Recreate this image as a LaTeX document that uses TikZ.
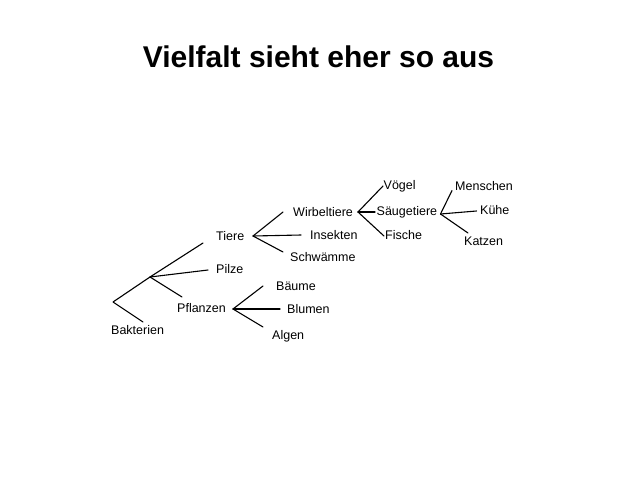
\documentclass[tikz,border=0pt]{standalone}
\usepackage{fontspec}
\setmainfont{Liberation Sans}
\usetikzlibrary{positioning}

\tikzset{
	taxon/.style={anchor=base west, inner sep=0pt, font=\fontsize{12.5}{15}\selectfont},
	branch/.style={line width=1.1pt, line cap=round},
}

\begin{document}
\begin{tikzpicture}[x=1pt, y=-1pt]
	\useasboundingbox (0,0) rectangle (640,480);
	\node [anchor=base, inner sep=0pt, font=\bfseries\fontsize{30}{36}\selectfont]	(Title)	at (318.5,67)	{Vielfalt sieht eher so aus};

	% labels
	\node [taxon]	(Bakterien)	at (111,334.5)	{Bakterien};
	\node [taxon]	(Tiere)		at (216,240)	{Tiere};
	\node [taxon]	(Pilze)		at (216,273)	{Pilze};
	\node [taxon]	(Pflanzen)	at (177,312.5)	{Pflanzen};
	\node [taxon]	(Baeume)	at (276,290)	{Bäume};
	\node [taxon]	(Blumen)	at (287,313)	{Blumen};
	\node [taxon]	(Algen)		at (272,339)	{Algen};
	\node [taxon]	(Wirbeltiere)	at (293,216)	{Wirbeltiere};
	\node [taxon]	(Insekten)	at (310,239)	{Insekten};
	\node [taxon]	(Schwaemme)	at (290,261)	{Schwämme};
	\node [taxon]	(Voegel)	at (383.5,189.5)	{Vögel};
	\node [taxon]	(Saeugetiere)	at (376.5,215)	{Säugetiere};
	\node [taxon]	(Fische)	at (385,239.5)	{Fische};
	\node [taxon]	(Menschen)	at (455,190)	{Menschen};
	\node [taxon]	(Kuehe)		at (480,214.5)	{Kühe};
	\node [taxon]	(Katzen)	at (464,245)	{Katzen};

	% forks and branch ends
	\coordinate (RootFork)		at (113,302);
	\coordinate (BakterienEnd)	at (143,322);
	\coordinate (LifeFork)		at (150,277);
	\coordinate (TiereEnd)		at (203,243);
	\coordinate (PilzeEnd)		at (208,270);
	\coordinate (PflanzenEnd)	at (182,297);
	\coordinate (TiereFork)		at (253,236);
	\coordinate (WirbeltiereEnd)	at (283,212);
	\coordinate (InsektenEnd)	at (301,235);
	\coordinate (SchwaemmeEnd)	at (283,252);
	\coordinate (PflanzenFork)	at (233,309);
	\coordinate (BaeumeEnd)		at (263,286);
	\coordinate (BlumenEnd)		at (280,309);
	\coordinate (AlgenEnd)		at (263,327);
	\coordinate (WirbeltiereFork)	at (358,212);
	\coordinate (VoegelEnd)		at (383,186);
	\coordinate (SaeugetiereEnd)	at (375,212);
	\coordinate (FischeEnd)		at (384,236);
	\coordinate (SaeugetiereFork)	at (440.5,214);
	\coordinate (MenschenEnd)	at (452,190.5);
	\coordinate (KueheEnd)		at (476.5,211);
	\coordinate (KatzenEnd)		at (468,233);

	\draw [branch] (RootFork) -- (LifeFork) (RootFork) -- (BakterienEnd);
	\foreach \fork/\ends in {LifeFork/{TiereEnd,PilzeEnd,PflanzenEnd},
		TiereFork/{WirbeltiereEnd,InsektenEnd,SchwaemmeEnd},
		PflanzenFork/{BaeumeEnd,BlumenEnd,AlgenEnd},
		WirbeltiereFork/{VoegelEnd,SaeugetiereEnd,FischeEnd},
		SaeugetiereFork/{MenschenEnd,KueheEnd,KatzenEnd}}
		\foreach \e in \ends
			\draw [branch] (\fork) -- (\e);
\end{tikzpicture}
\end{document}
